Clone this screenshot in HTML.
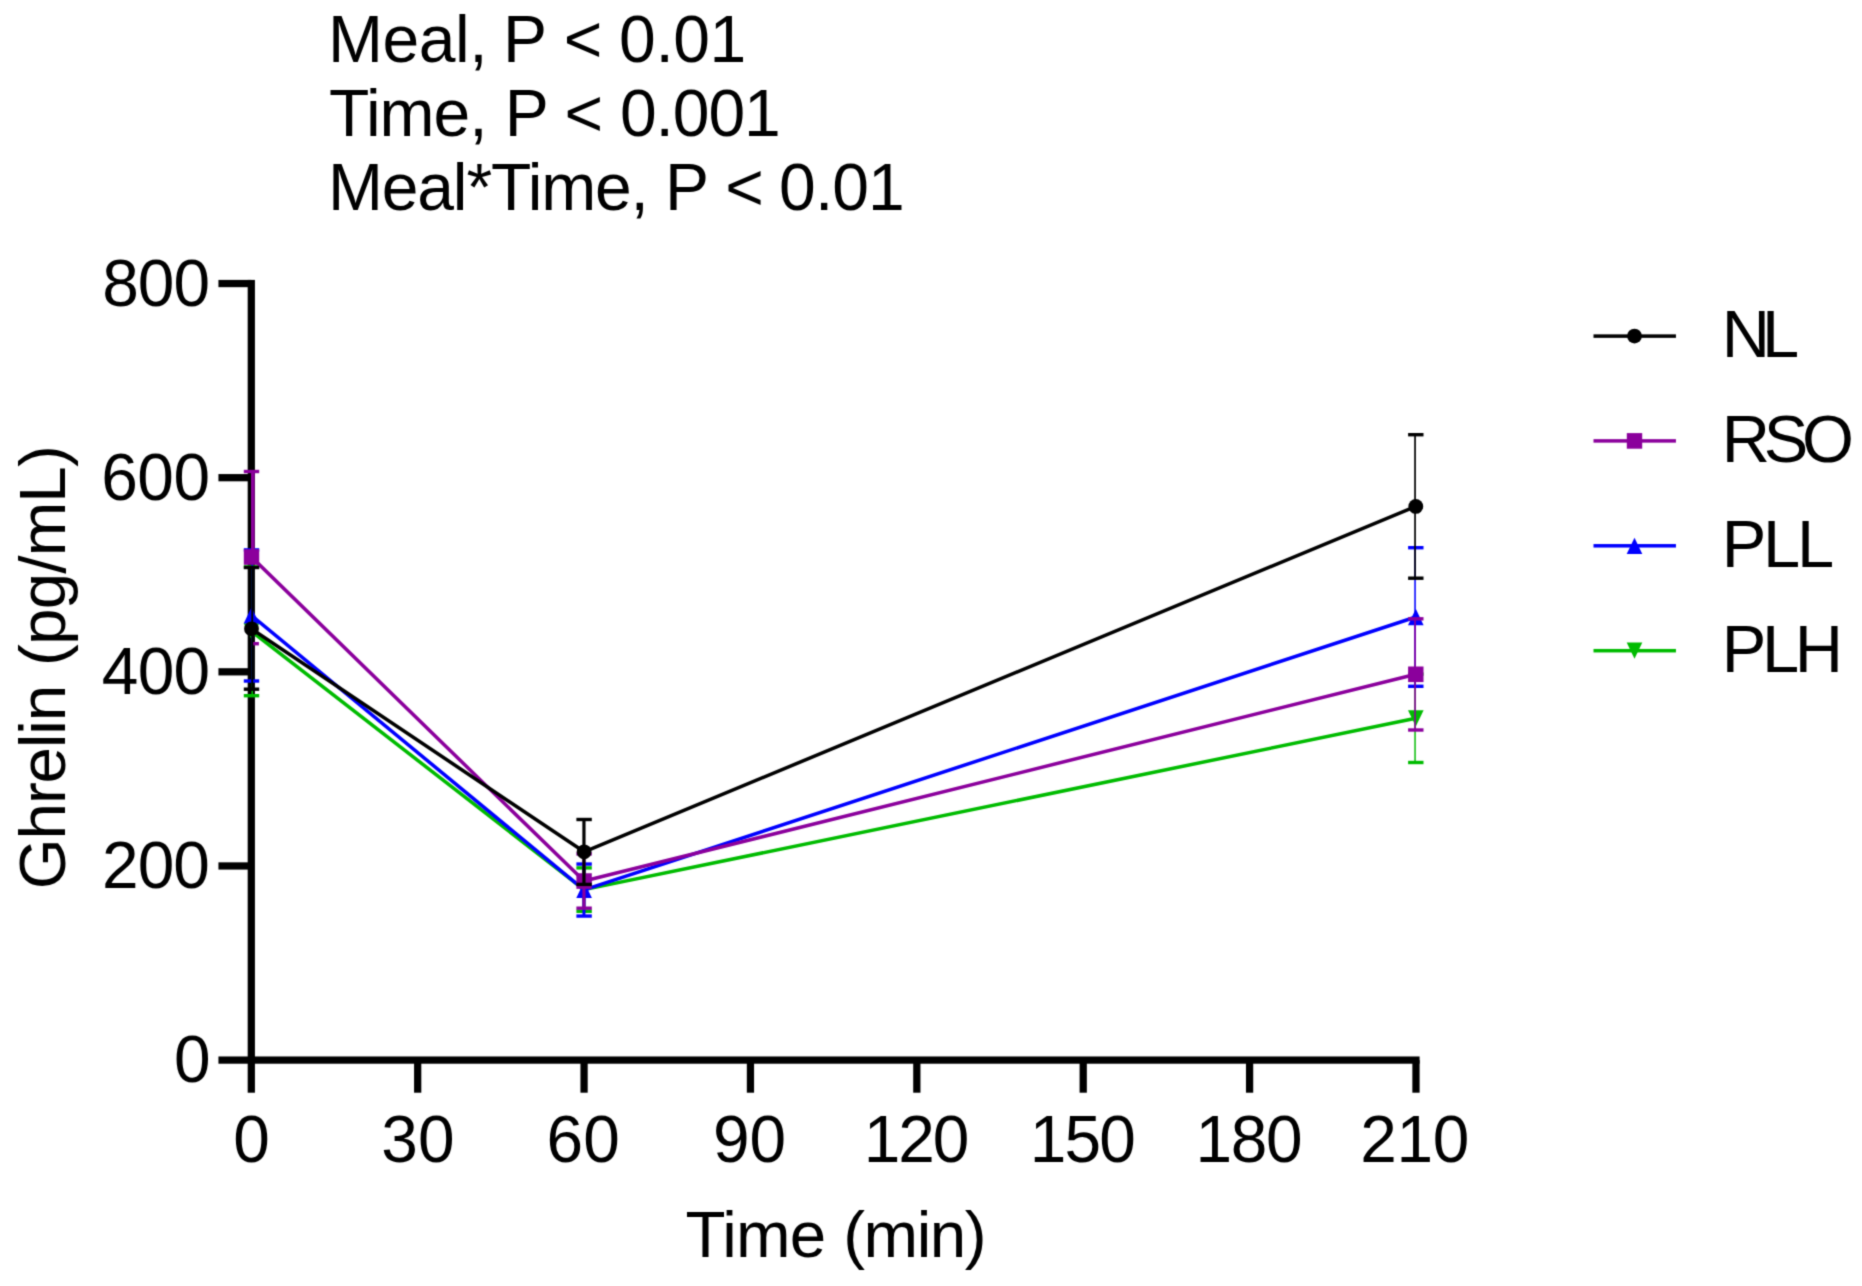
<!DOCTYPE html>
<html lang="en"><head><meta charset="utf-8"><title>Ghrelin</title>
<style>html,body{margin:0;padding:0;background:#fff;}body{width:1862px;height:1286px;overflow:hidden;}svg{display:block;}text{font-family:"Liberation Sans",Arial,Helvetica,sans-serif;fill:#000;white-space:pre;}</style>
</head><body>
<svg width="1862" height="1286" viewBox="0 0 1862 1286">
<defs><filter id="soft" x="0" y="0" width="1862" height="1286" filterUnits="userSpaceOnUse" color-interpolation-filters="sRGB"><feConvolveMatrix order="3" kernelMatrix="1 4 1 4 16 4 1 4 1" divisor="36" edgeMode="duplicate" preserveAlpha="false"/></filter></defs>
<g filter="url(#soft)">
<rect x="0" y="0" width="1862" height="1286" fill="#ffffff"/>
<g id="axes" fill="#000">
<rect x="247.68" y="279.93" width="7.25" height="812.78"/>
<rect x="218.45" y="1056.47" width="1201.15" height="7.25"/>
<rect x="218.45" y="862.34" width="32.85" height="7.25"/>
<rect x="218.45" y="668.20" width="32.85" height="7.25"/>
<rect x="218.45" y="474.06" width="32.85" height="7.25"/>
<rect x="218.45" y="279.92" width="32.85" height="7.25"/>
<rect x="414.06" y="1060.10" width="7.25" height="32.60"/>
<rect x="580.44" y="1060.10" width="7.25" height="32.60"/>
<rect x="746.82" y="1060.10" width="7.25" height="32.60"/>
<rect x="913.21" y="1060.10" width="7.25" height="32.60"/>
<rect x="1079.59" y="1060.10" width="7.25" height="32.60"/>
<rect x="1245.97" y="1060.10" width="7.25" height="32.60"/>
<rect x="1412.36" y="1060.10" width="7.25" height="32.60"/>
</g>
<g id="labels">
<text id="t-title1" y="62.00" style="font-size:66.0px"><tspan id="w-title1-0" x="327.90" style="letter-spacing:-0.437px">Meal,</tspan> <tspan id="w-title1-1" x="502.93" style="letter-spacing:0.000px">P</tspan> <tspan id="w-title1-2" x="563.75" style="letter-spacing:0.000px">&lt;</tspan> <tspan id="w-title1-3" x="619.10" style="letter-spacing:-0.417px">0.01</tspan></text>
<text id="t-title2" y="136.00" style="font-size:66.0px"><tspan id="w-title2-0" x="329.10" style="letter-spacing:-1.000px">Time,</tspan> <tspan id="w-title2-1" x="504.87" style="letter-spacing:0.000px">P</tspan> <tspan id="w-title2-2" x="564.38" style="letter-spacing:0.000px">&lt;</tspan> <tspan id="w-title2-3" x="619.90" style="letter-spacing:-1.063px">0.001</tspan></text>
<text id="t-title3" y="209.70" style="font-size:66.0px"><tspan id="w-title3-0" x="327.90" style="letter-spacing:-1.139px">Meal*Time,</tspan> <tspan id="w-title3-1" x="665.08" style="letter-spacing:0.000px">P</tspan> <tspan id="w-title3-2" x="725.18" style="letter-spacing:0.000px">&lt;</tspan> <tspan id="w-title3-3" x="779.10" style="letter-spacing:-0.917px">0.01</tspan></text>
<text id="t-y0" y="1082.40" style="font-size:65.8px"><tspan id="w-y0-0" x="173.90" style="letter-spacing:0.000px">0</tspan></text>
<text id="t-y200" y="888.26" style="font-size:65.8px"><tspan id="w-y200-0" x="101.95" style="letter-spacing:-0.875px">200</tspan></text>
<text id="t-y400" y="694.12" style="font-size:65.8px"><tspan id="w-y400-0" x="101.80" style="letter-spacing:-0.750px">400</tspan></text>
<text id="t-y600" y="499.99" style="font-size:65.8px"><tspan id="w-y600-0" x="101.15" style="letter-spacing:-0.375px">600</tspan></text>
<text id="t-y800" y="305.85" style="font-size:65.8px"><tspan id="w-y800-0" x="102.25" style="letter-spacing:-1.000px">800</tspan></text>
<text id="t-x0" y="1161.80" style="font-size:65.8px"><tspan id="w-x0-0" x="233.30" style="letter-spacing:0.000px">0</tspan></text>
<text id="t-x30" y="1161.80" style="font-size:65.8px"><tspan id="w-x30-0" x="381.30" style="letter-spacing:0.000px">30</tspan></text>
<text id="t-x60" y="1161.80" style="font-size:65.8px"><tspan id="w-x60-0" x="546.55" style="letter-spacing:0.000px">60</tspan></text>
<text id="t-x90" y="1161.80" style="font-size:65.8px"><tspan id="w-x90-0" x="713.10" style="letter-spacing:-0.250px">90</tspan></text>
<text id="t-x120" y="1161.80" style="font-size:65.8px"><tspan id="w-x120-0" x="863.70" style="letter-spacing:-2.000px">120</tspan></text>
<text id="t-x150" y="1161.80" style="font-size:65.8px"><tspan id="w-x150-0" x="1029.70" style="letter-spacing:-1.750px">150</tspan></text>
<text id="t-x180" y="1161.80" style="font-size:65.8px"><tspan id="w-x180-0" x="1195.55" style="letter-spacing:-1.375px">180</tspan></text>
<text id="t-x210" y="1161.80" style="font-size:65.8px"><tspan id="w-x210-0" x="1360.25" style="letter-spacing:-0.375px">210</tspan></text>
<text id="t-xtitle" y="1257.30" style="font-size:65.5px"><tspan id="w-xtitle-0" x="685.60" style="letter-spacing:-0.833px">Time</tspan> <tspan id="w-xtitle-1" x="843.20" style="letter-spacing:-1.438px">(min)</tspan></text>
<text id="t-ytitle" transform="rotate(-90)" y="65.30" style="font-size:65.5px"><tspan id="w-ytitle-0" x="-889.25" style="letter-spacing:-1.125px">Ghrelin</tspan> <tspan id="w-ytitle-1" x="-665.90" style="letter-spacing:-0.833px">(pg/mL)</tspan></text>
<text id="t-NL" y="357.00" style="font-size:66.8px"><tspan id="w-NL-0" x="1721.80" style="letter-spacing:-8.000px">NL</tspan></text>
<text id="t-RSO" y="461.90" style="font-size:66.8px"><tspan id="w-RSO-0" x="1721.80" style="letter-spacing:-6.250px">RSO</tspan></text>
<text id="t-PLL" y="567.00" style="font-size:66.8px"><tspan id="w-PLL-0" x="1721.80" style="letter-spacing:-3.250px">PLL</tspan></text>
<text id="t-PLH" y="671.90" style="font-size:66.8px"><tspan id="w-PLH-0" x="1721.80" style="letter-spacing:-4.375px">PLH</tspan></text>
</g>
<g id="series-PLH">
<rect x="251.47" y="566.90" width="1.56" height="128.80" fill="#00BB00"/>
<rect x="243.80" y="565.20" width="15.40" height="3.40" fill="#00BB00"/>
<rect x="243.80" y="694.00" width="15.40" height="3.40" fill="#00BB00"/>
<rect x="582.47" y="867.90" width="2.96" height="43.40" fill="#00BB00"/>
<rect x="576.40" y="866.20" width="15.40" height="3.40" fill="#00BB00"/>
<rect x="576.40" y="909.60" width="15.40" height="3.40" fill="#00BB00"/>
<rect x="1414.32" y="674.10" width="1.46" height="88.40" fill="#00BB00"/>
<rect x="1408.10" y="672.40" width="15.40" height="3.40" fill="#00BB00"/>
<rect x="1408.10" y="760.80" width="15.40" height="3.40" fill="#00BB00"/>
<polyline points="251.50,631.30 584.10,889.60 1415.80,718.30" fill="none" stroke="#00BB00" stroke-width="3.50" stroke-linejoin="round"/>
<polygon points="243.70,623.15 259.30,623.15 251.50,639.45" fill="#00BB00"/>
<polygon points="576.30,881.45 591.90,881.45 584.10,897.75" fill="#00BB00"/>
<polygon points="1408.00,710.15 1423.60,710.15 1415.80,726.45" fill="#00BB00"/>
</g>
<g id="series-PLL">
<rect x="251.43" y="549.90" width="1.64" height="131.10" fill="#0000FF"/>
<rect x="243.80" y="548.20" width="15.40" height="3.40" fill="#0000FF"/>
<rect x="243.80" y="679.30" width="15.40" height="3.40" fill="#0000FF"/>
<rect x="582.43" y="864.05" width="3.04" height="52.00" fill="#0000FF"/>
<rect x="576.40" y="862.35" width="15.40" height="3.40" fill="#0000FF"/>
<rect x="576.40" y="914.35" width="15.40" height="3.40" fill="#0000FF"/>
<rect x="1414.28" y="547.70" width="1.54" height="138.60" fill="#0000FF"/>
<rect x="1408.10" y="546.00" width="15.40" height="3.40" fill="#0000FF"/>
<rect x="1408.10" y="684.60" width="15.40" height="3.40" fill="#0000FF"/>
<polyline points="251.50,615.45 584.10,889.95 1415.80,617.00" fill="none" stroke="#0000FF" stroke-width="3.50" stroke-linejoin="round"/>
<polygon points="251.50,607.30 259.30,623.60 243.70,623.60" fill="#0000FF"/>
<polygon points="584.10,881.80 591.90,898.10 576.30,898.10" fill="#0000FF"/>
<polygon points="1415.80,608.85 1423.60,625.15 1408.00,625.15" fill="#0000FF"/>
</g>
<g id="series-RSO">
<rect x="251.00" y="471.50" width="3.70" height="85.50" fill="#8B009C"/>
<rect x="243.80" y="469.80" width="15.40" height="3.40" fill="#8B009C"/>
<rect x="253.00" y="642.00" width="5.90" height="3.40" fill="#8B009C"/>
<rect x="582.39" y="853.90" width="3.12" height="54.30" fill="#8B009C"/>
<rect x="576.40" y="852.20" width="15.40" height="3.40" fill="#8B009C"/>
<rect x="576.40" y="906.50" width="15.40" height="3.40" fill="#8B009C"/>
<rect x="1414.24" y="618.80" width="1.62" height="111.20" fill="#8B009C"/>
<rect x="1408.10" y="617.10" width="15.40" height="3.40" fill="#8B009C"/>
<rect x="1408.10" y="728.30" width="15.40" height="3.40" fill="#8B009C"/>
<polyline points="251.50,557.00 584.10,881.05 1415.80,674.30" fill="none" stroke="#8B009C" stroke-width="3.50" stroke-linejoin="round"/>
<rect x="243.80" y="549.20" width="15.40" height="15.60" fill="#8B009C"/>
<rect x="576.40" y="873.25" width="15.40" height="15.60" fill="#8B009C"/>
<rect x="1408.10" y="666.50" width="15.40" height="15.60" fill="#8B009C"/>
</g>
<g id="series-NL">
<rect x="251.35" y="567.50" width="1.80" height="121.70" fill="#000000"/>
<rect x="243.80" y="565.80" width="15.40" height="3.40" fill="#000000"/>
<rect x="243.80" y="687.50" width="15.40" height="3.40" fill="#000000"/>
<rect x="582.35" y="819.50" width="3.20" height="64.90" fill="#000000"/>
<rect x="576.40" y="817.80" width="15.40" height="3.40" fill="#000000"/>
<rect x="576.40" y="882.70" width="15.40" height="3.40" fill="#000000"/>
<rect x="1414.20" y="434.70" width="1.70" height="143.50" fill="#000000"/>
<rect x="1408.10" y="433.00" width="15.40" height="3.40" fill="#000000"/>
<rect x="1408.10" y="576.50" width="15.40" height="3.40" fill="#000000"/>
<polyline points="251.50,628.80 584.10,851.80 1415.80,506.40" fill="none" stroke="#000000" stroke-width="3.50" stroke-linejoin="round"/>
<circle cx="251.50" cy="628.80" r="7.40" fill="#000000"/>
<circle cx="584.10" cy="851.80" r="7.40" fill="#000000"/>
<circle cx="1415.80" cy="506.40" r="7.40" fill="#000000"/>
</g>
<g id="legend">
<rect x="1593.50" y="334.35" width="82.45" height="3.50" fill="#000000"/>
<circle cx="1634.50" cy="336.10" r="7.40" fill="#000000"/>
<rect x="1593.50" y="439.15" width="82.45" height="3.50" fill="#8B009C"/>
<rect x="1626.80" y="433.10" width="15.40" height="15.60" fill="#8B009C"/>
<rect x="1593.50" y="544.05" width="82.45" height="3.50" fill="#0000FF"/>
<polygon points="1634.50,537.65 1642.30,553.95 1626.70,553.95" fill="#0000FF"/>
<rect x="1593.50" y="648.95" width="82.45" height="3.50" fill="#00BB00"/>
<polygon points="1626.70,642.55 1642.30,642.55 1634.50,658.85" fill="#00BB00"/>
</g>
</g>
</svg>
</body></html>
